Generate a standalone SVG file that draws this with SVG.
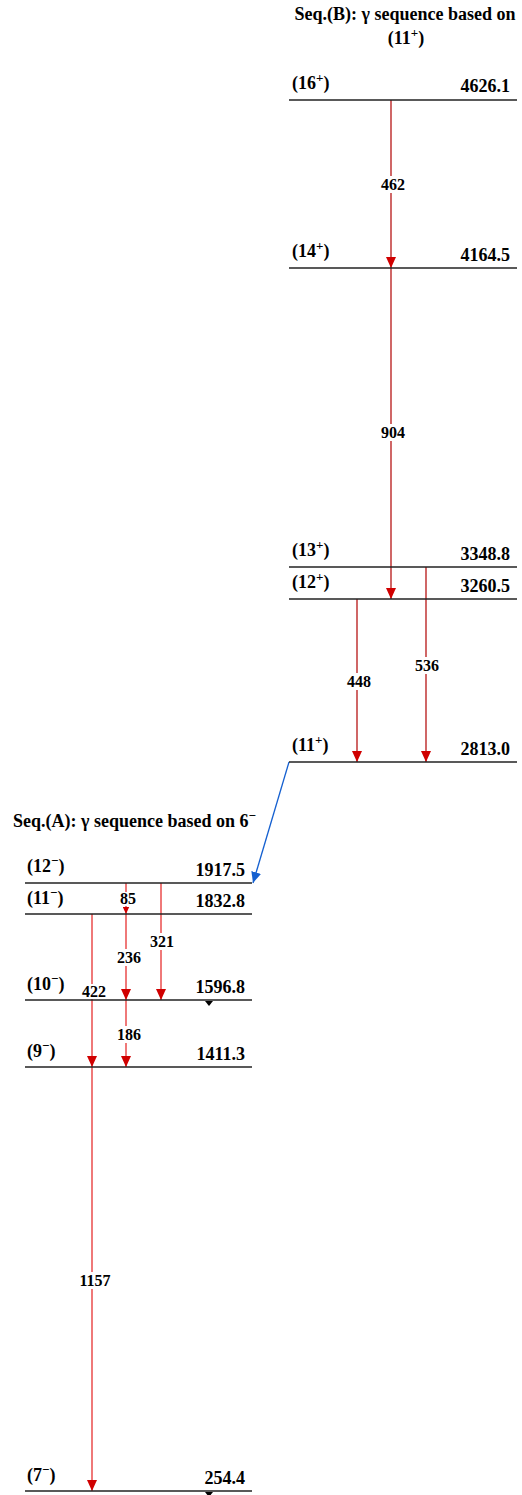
<svg xmlns="http://www.w3.org/2000/svg" width="522" height="1495" viewBox="0 0 522 1495">
<style>
text{font-family:"Liberation Serif","Times New Roman",serif;font-weight:bold;fill:#000}
.title{font-size:18px}
.lvl{font-size:18px}
.e{font-size:18px;text-anchor:end}
.g{font-size:16px;text-anchor:middle}
.line{stroke:#222;stroke-width:1.3}
.tb{stroke:#b00000;stroke-width:1.2}
.ta{stroke:#e84040;stroke-width:1.4}
.bg{fill:#fff}
</style>
<defs>
<marker id="ah" viewBox="0 0 11 10" refX="11" refY="5" markerWidth="11" markerHeight="10" markerUnits="userSpaceOnUse" orient="auto"><path d="M0,0 L11,5 L0,10 z" fill="#d00000"/></marker>
<marker id="ahs" viewBox="0 0 11 10" refX="11" refY="5" markerWidth="7" markerHeight="7" markerUnits="userSpaceOnUse" orient="auto"><path d="M0,0 L11,5 L0,10 z" fill="#d00000"/></marker>
<marker id="ahb" viewBox="0 0 11 10" refX="11" refY="5" markerWidth="11" markerHeight="10" markerUnits="userSpaceOnUse" orient="auto"><path d="M0,0 L11,5 L0,10 z" fill="#1560d0"/></marker>
</defs>

<g id="titles">
<text class="title" x="405" y="20" text-anchor="middle">Seq.(B): γ sequence based on</text>
<text class="title" x="406" y="44" text-anchor="middle">(11<tspan font-size="13" dy="-7">+</tspan><tspan dy="7">)</tspan></text>
<text class="title" x="13" y="827">Seq.(A): γ sequence based on 6<tspan font-size="13" dy="-7">−</tspan></text>
</g>

<g id="connectors">
<line class="tb" x1="391" y1="100" x2="391" y2="268" marker-end="url(#ah)"/>
<line class="tb" x1="391" y1="268" x2="391" y2="599" marker-end="url(#ah)"/>
<line class="tb" x1="426" y1="567" x2="426" y2="762" marker-end="url(#ah)"/>
<line class="tb" x1="357" y1="599" x2="357" y2="762" marker-end="url(#ah)"/>
<line x1="289" y1="762" x2="253" y2="883" stroke="#1560d0" stroke-width="1.3" marker-end="url(#ahb)"/>
<line class="ta" x1="126" y1="883" x2="126" y2="914" marker-end="url(#ahs)"/>
<line class="ta" x1="161" y1="883" x2="161" y2="1000" marker-end="url(#ah)"/>
<line class="ta" x1="126" y1="914" x2="126" y2="1000" marker-end="url(#ah)"/>
<line class="ta" x1="92" y1="914" x2="92" y2="1067" marker-end="url(#ah)"/>
<line class="ta" x1="126" y1="1000" x2="126" y2="1067" marker-end="url(#ah)"/>
<line class="ta" x1="92" y1="1067" x2="92" y2="1491" marker-end="url(#ah)"/>
</g>

<g id="gamma-labels">
<rect class="bg" x="379" y="176" width="28" height="17"/><text class="g" x="393" y="190">462</text>
<rect class="bg" x="379" y="424" width="28" height="17"/><text class="g" x="393" y="438">904</text>
<rect class="bg" x="413" y="657" width="28" height="17"/><text class="g" x="427" y="671">536</text>
<rect class="bg" x="345" y="673" width="28" height="17"/><text class="g" x="359" y="687">448</text>
<rect class="bg" x="119" y="892" width="19" height="14"/><text class="g" x="128" y="904">85</text>
<rect class="bg" x="148" y="933" width="28" height="17"/><text class="g" x="162" y="947">321</text>
<rect class="bg" x="115" y="949" width="28" height="17"/><text class="g" x="129" y="963">236</text>
<rect class="bg" x="80" y="984" width="28" height="15"/><text class="g" x="94" y="997">422</text>
<rect class="bg" x="115" y="1026" width="28" height="17"/><text class="g" x="129" y="1040">186</text>
<rect class="bg" x="77" y="1272" width="36" height="17"/><text class="g" x="95" y="1286">1157</text>
</g>

<g id="lvl-16p"><line class="line" x1="289" y1="100" x2="517" y2="100"/><text class="lvl" x="292" y="89">(16<tspan font-size="13" dy="-7">+</tspan><tspan dy="7">)</tspan></text><text class="e" x="510" y="92">4626.1</text></g>
<g id="lvl-14p"><line class="line" x1="289" y1="268" x2="517" y2="268"/><text class="lvl" x="292" y="257">(14<tspan font-size="13" dy="-7">+</tspan><tspan dy="7">)</tspan></text><text class="e" x="510" y="261">4164.5</text></g>
<g id="lvl-13p"><line class="line" x1="289" y1="567" x2="517" y2="567"/><text class="lvl" x="292" y="556">(13<tspan font-size="13" dy="-7">+</tspan><tspan dy="7">)</tspan></text><text class="e" x="510" y="560">3348.8</text></g>
<g id="lvl-12p"><line class="line" x1="289" y1="599" x2="517" y2="599"/><text class="lvl" x="292" y="588">(12<tspan font-size="13" dy="-7">+</tspan><tspan dy="7">)</tspan></text><text class="e" x="510" y="592">3260.5</text></g>
<g id="lvl-11p"><line class="line" x1="289" y1="762" x2="517" y2="762"/><text class="lvl" x="292" y="751">(11<tspan font-size="13" dy="-7">+</tspan><tspan dy="7">)</tspan></text><text class="e" x="510" y="755">2813.0</text></g>

<g id="lvl-12m"><line class="line" x1="25" y1="883" x2="252" y2="883"/><text class="lvl" x="27" y="872">(12<tspan font-size="13" dy="-7">−</tspan><tspan dy="7">)</tspan></text><text class="e" x="245" y="876">1917.5</text></g>
<g id="lvl-11m"><line class="line" x1="25" y1="914" x2="252" y2="914"/><text class="lvl" x="27" y="904">(11<tspan font-size="13" dy="-7">−</tspan><tspan dy="7">)</tspan></text><text class="e" x="245" y="907">1832.8</text></g>
<g id="lvl-10m"><line class="line" x1="25" y1="1000" x2="252" y2="1000"/><text class="lvl" x="27" y="990">(10<tspan font-size="13" dy="-7">−</tspan><tspan dy="7">)</tspan></text><text class="e" x="245" y="993">1596.8</text><path d="M205,1001 L213,1001 L209,1006 z" fill="#000"/></g>
<g id="lvl-9m"><line class="line" x1="25" y1="1067" x2="252" y2="1067"/><text class="lvl" x="27" y="1057">(9<tspan font-size="13" dy="-7">−</tspan><tspan dy="7">)</tspan></text><text class="e" x="245" y="1060">1411.3</text></g>
<g id="lvl-7m"><line class="line" x1="25" y1="1491" x2="252" y2="1491"/><text class="lvl" x="27" y="1481">(7<tspan font-size="13" dy="-7">−</tspan><tspan dy="7">)</tspan></text><text class="e" x="245" y="1484">254.4</text><path d="M205,1492 L213,1492 L209,1497 z" fill="#000"/></g>
</svg>
